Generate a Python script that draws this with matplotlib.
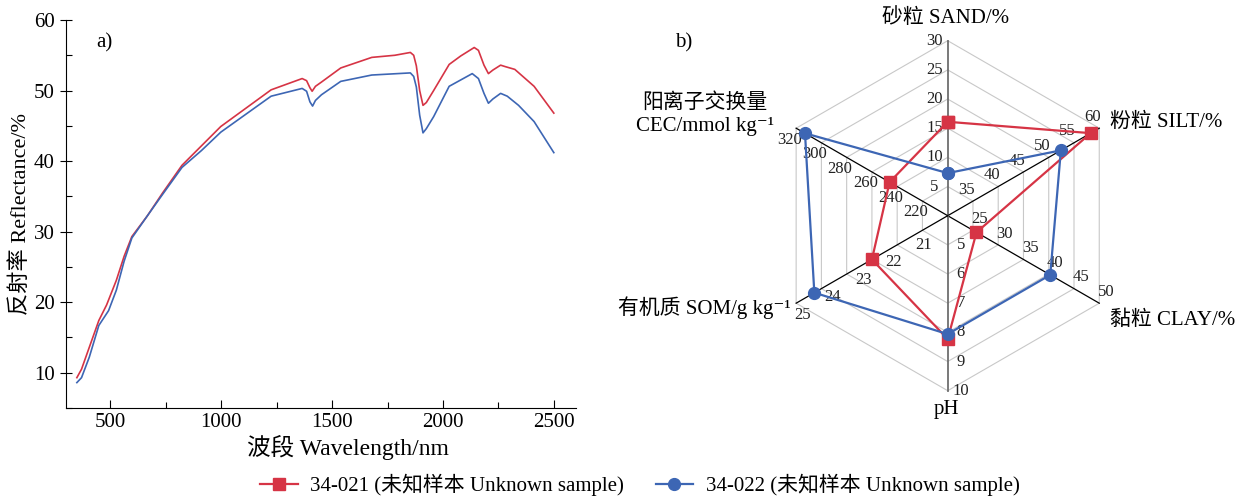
import numpy as np
import matplotlib
matplotlib.use("Agg")
import matplotlib.pyplot as plt
from matplotlib.ticker import MultipleLocator

plt.rcParams['font.family'] = ['Liberation Serif', 'Noto Sans CJK SC', 'DejaVu Serif']

RED = '#d63445'
BLUE = '#3d66b4'

# ---- spectra (a) ----
wl_021 = [349, 370, 405, 448, 483, 527, 562, 597, 666, 736, 823, 998, 1225, 1365, 1385,
          1400, 1410, 1425, 1452, 1539, 1679, 1783, 1853, 1868, 1880, 1895, 1910, 1925,
          1958, 2028, 2080, 2141, 2160, 2185, 2205, 2225, 2260, 2280, 2324, 2411, 2500]
refl_021 = [9.3, 10.5, 13.6, 17.4, 19.6, 23.1, 26.5, 29.3, 32.2, 35.5, 39.4, 44.9, 50.1,
            51.7, 51.4, 50.4, 49.9, 50.6, 51.2, 53.2, 54.7, 55.0, 55.4, 55.0, 53.5, 50.0,
            47.9, 48.3, 50.0, 53.7, 54.9, 56.1, 55.7, 53.6, 52.4, 52.9, 53.6, 53.4, 53.0,
            50.6, 46.8]
wl_022 = [349, 370, 405, 448, 492, 527, 562, 597, 666, 736, 823, 911, 998, 1225, 1365,
          1385, 1400, 1412, 1425, 1452, 1539, 1679, 1853, 1868, 1880, 1895, 1910, 1925,
          1958, 2028, 2132, 2160, 2185, 2205, 2225, 2260, 2290, 2341, 2411, 2500]
refl_022 = [8.6, 9.3, 12.2, 16.7, 18.8, 21.7, 25.8, 29.1, 32.2, 35.3, 39.1, 41.5, 44.1,
            49.2, 50.3, 49.9, 48.4, 47.8, 48.6, 49.4, 51.3, 52.2, 52.5, 52.0, 50.5, 46.5,
            44.0, 44.6, 46.3, 50.6, 52.4, 51.7, 49.6, 48.2, 48.8, 49.6, 49.2, 47.9, 45.6,
            41.2]

# ---- radar (b) ----
radar_labels = ['砂粒 SAND/%', '粉粒 SILT/%', '黏粒 CLAY/%', 'pH',
                '有机质 SOM/g kg⁻¹', '阳离子交换量\nCEC/mmol kg⁻¹']
radar_angles = [90, 30, -30, -90, 210, 150]
radar_min = [0, 30, 20, 4, 20, 200]
radar_max = [30, 60, 50, 10, 25, 320]
radar_ticks = [[5, 10, 15, 20, 25, 30], [35, 40, 45, 50, 55, 60], [25, 30, 35, 40, 45, 50],
               [5, 6, 7, 8, 9, 10], [21, 22, 23, 24, 25], [220, 240, 260, 280, 300, 320]]
vals_021 = [16.1, 58.3, 25.7, 8.23, 22.5, 246]
vals_022 = [7.3, 52.4, 40.3, 8.06, 24.4, 313]

fig = plt.figure(figsize=(12.5, 4.99), dpi=100)

# spectra panel
ax = fig.add_axes([66 / 1250, 91 / 499, 510 / 1250, 388 / 499])
ax.plot(wl_021, refl_021, color=RED, lw=1.2)
ax.plot(wl_022, refl_022, color=BLUE, lw=1.2)
ax.set_xlim(300, 2600)
ax.set_ylim(5, 60)
ax.xaxis.set_major_locator(MultipleLocator(500))
ax.xaxis.set_minor_locator(MultipleLocator(250))
ax.yaxis.set_major_locator(MultipleLocator(10))
ax.yaxis.set_minor_locator(MultipleLocator(5))
ax.tick_params(which='both', direction='in', labelsize=15, width=0.8)
ax.tick_params(axis='y', which='major', direction='inout', length=9)
ax.tick_params(axis='x', which='major', length=6)
ax.tick_params(which='minor', length=4)
for s in ['top', 'right']:
    ax.spines[s].set_visible(False)
ax.set_xlabel('波段 Wavelength/nm', fontsize=17)
ax.xaxis.set_label_coords(0.553, -0.07)
ax.set_ylabel('反射率 Reflectance/%', fontsize=16, labelpad=2)
ax.text(0.06, 0.93, 'a)', transform=ax.transAxes, fontsize=15)

# radar panel, 1 data unit = 175 px
R = 175.0
cx, cy = 947.7, 499 - 215.7
rx = fig.add_axes([600 / 1250, 0, 650 / 1250, 1])
rx.set_xlim((600 - cx) / R, (1250 - cx) / R)
rx.set_ylim(-cy / R, (499 - cy) / R)
rx.set_aspect('equal')
rx.axis('off')

th = np.deg2rad(radar_angles)
ux, uy = np.cos(th), np.sin(th)
for k in range(1, 7):
    r = k / 6
    rx.plot(np.append(ux, ux[0]) * r, np.append(uy, uy[0]) * r, color='#c8c8c8', lw=0.8, zorder=1)
for i in range(6):
    c = '#6e6e6e' if radar_angles[i] in (90, -90) else 'black'
    w = 1.3 if radar_angles[i] in (90, -90) else 0.9
    rx.plot([0, ux[i]], [0, uy[i]], color=c, lw=w, zorder=2)
    px, py = np.cos(th[i] + np.pi / 2), np.sin(th[i] + np.pi / 2)
    for t in radar_ticks[i]:
        r = (t - radar_min[i]) / (radar_max[i] - radar_min[i])
        rx.text(ux[i] * r + px * 0.075, uy[i] * r + py * 0.075, str(t),
                fontsize=12, ha='center', va='center', color='#222222', zorder=3)

def norm(vals):
    return [(v - a) / (b - a) for v, a, b in zip(vals, radar_min, radar_max)]

handles = []
for vals, col, mk, lab in [(vals_021, RED, 's', '34-021 (未知样本 Unknown sample)'),
                           (vals_022, BLUE, 'o', '34-022 (未知样本 Unknown sample)')]:
    r = np.array(norm(vals))
    h, = rx.plot(np.append(ux * r, ux[0] * r[0]), np.append(uy * r, uy[0] * r[0]),
                 color=col, lw=1.6, marker=mk, markersize=8.5, zorder=4, label=lab)
    handles.append(h)

name_pos = [((946 - cx) / R, 1.13, 'center'), (0.928, 0.535, 'left'), (0.928, -0.596, 'left'),
            ((946 - cx) / R, -1.11, 'center'), (-0.9, -0.527, 'right'), (-1.387, 0.58, 'center')]
for (x, y, ha), lab in zip(name_pos, radar_labels):
    rx.text(x, y, lab, fontsize=15, ha=ha, va='center', multialignment='center', linespacing=1.3)
rx.text(-1.558, 0.99, 'b)', fontsize=15, ha='left', va='center')

fig.legend(handles=handles, loc='center', bbox_to_anchor=(0.512, 0.028), ncol=2,
           frameon=False, fontsize=15, handlelength=1.8, columnspacing=1.5, handletextpad=0.6)

fig.savefig('out.png', dpi=100)
